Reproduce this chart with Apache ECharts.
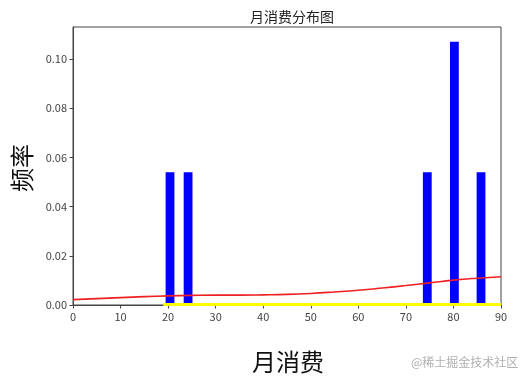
<!DOCTYPE html>
<html>
<head>
<meta charset="utf-8">
<script src="https://cdn.jsdelivr.net/npm/echarts@6/dist/echarts.min.js"></script>
<style>html,body{margin:0;padding:0;background:#fff;}#c{width:521px;height:380px;}</style>
</head>
<body>
<div id="c"></div>
<script>
// Histogram bars (bin centers and frequency heights)
var binCenters = [20.4, 24.2, 74.5, 80.2, 85.8];
var binHeights = [0.054, 0.054, 0.054, 0.107, 0.054];
var binWidth = 1.85;
// Red curve
var redX = [0, 5, 10, 15, 20, 25, 30, 35, 40, 45, 50, 55, 60, 65, 70, 75, 80, 85, 90];
var redY = [0.0022, 0.0026, 0.0030, 0.0034, 0.0037, 0.0039, 0.0040, 0.0040, 0.0041, 0.0043, 0.0047, 0.0053, 0.0060, 0.0069, 0.0079, 0.0090, 0.0101, 0.0109, 0.0115];
// Yellow curve
var yellowX = [19, 40, 60, 90];
var yellowY = [0.0002, 0.0002, 0.0002, 0.0002];
// Tick labels
var xTicks = [0, 10, 20, 30, 40, 50, 60, 70, 80, 90];
var yTicks = [0, 0.02, 0.04, 0.06, 0.08, 0.10];

var font = '"Noto Sans CJK SC", sans-serif';
var chart = echarts.init(document.getElementById('c'), null, {renderer: 'canvas'});
var option = {
  animation: false,
  backgroundColor: '#fff',
  title: {
    text: '月消费分布图', left: 287, top: 5, textAlign: 'center',
    textStyle: {fontFamily: font, fontSize: 14, fontWeight: 'normal', color: '#222'}
  },
  grid: {left: 73, right: 20, top: 27, bottom: 75, show: true, borderColor: '#444', borderWidth: 1, backgroundColor: 'transparent'},
  xAxis: {
    type: 'value', min: 0, max: 90, interval: 10,
    axisLine: {show: true, lineStyle: {color: '#444', width: 1}},
    axisTick: {show: true, length: 3.5, lineStyle: {color: '#444'}, customValues: xTicks},
    axisLabel: {fontFamily: font, fontSize: 11, color: '#444', margin: 6, customValues: xTicks},
    splitLine: {show: false}
  },
  yAxis: {
    type: 'value', min: 0, max: 0.113,
    axisLine: {show: true, lineStyle: {color: '#444', width: 1}},
    axisTick: {show: true, length: 3.5, lineStyle: {color: '#444'}, customValues: yTicks},
    axisLabel: {fontFamily: font, fontSize: 11, color: '#444', margin: 6, customValues: yTicks,
      formatter: function (v) { return v.toFixed(2); }},
    splitLine: {show: false}
  },
  series: [
    {
      type: 'custom',
      renderItem: function (params, api) {
        var c = api.value(0), h = api.value(1);
        var p0 = api.coord([c - binWidth / 2, h]);
        var p1 = api.coord([c + binWidth / 2, 0]);
        return {type: 'rect', shape: {x: p0[0], y: p0[1], width: p1[0] - p0[0], height: p1[1] - p0[1]},
          style: {fill: '#0000ff'}};
      },
      data: binCenters.map(function (c, i) { return [c, binHeights[i]]; }),
      z: 2
    },
    {
      type: 'line', smooth: true, showSymbol: false, symbol: 'none',
      data: redX.map(function (x, i) { return [x, redY[i]]; }),
      lineStyle: {color: '#ee2020', width: 1.6}, z: 3
    },
    {
      type: 'line', showSymbol: false, symbol: 'none',
      data: yellowX.map(function (x, i) { return [x, yellowY[i]]; }),
      lineStyle: {color: '#ffff00', width: 3}, z: 4
    }
  ],
  graphic: [
    {type: 'text', left: 252, top: 350, style: {text: '月消费', font: '24px ' + font, fill: '#111'}},
    {type: 'text', x: 10, y: 192, rotation: Math.PI / 2, style: {text: '频率', font: '24px ' + font, fill: '#111'}},
    {type: 'text', left: 411, top: 356, style: {text: '@稀土掘金技术社区', font: '12px ' + font, fill: '#b0b0b0'}}
  ]
};
chart.setOption(option);
</script>
</body>
</html>
